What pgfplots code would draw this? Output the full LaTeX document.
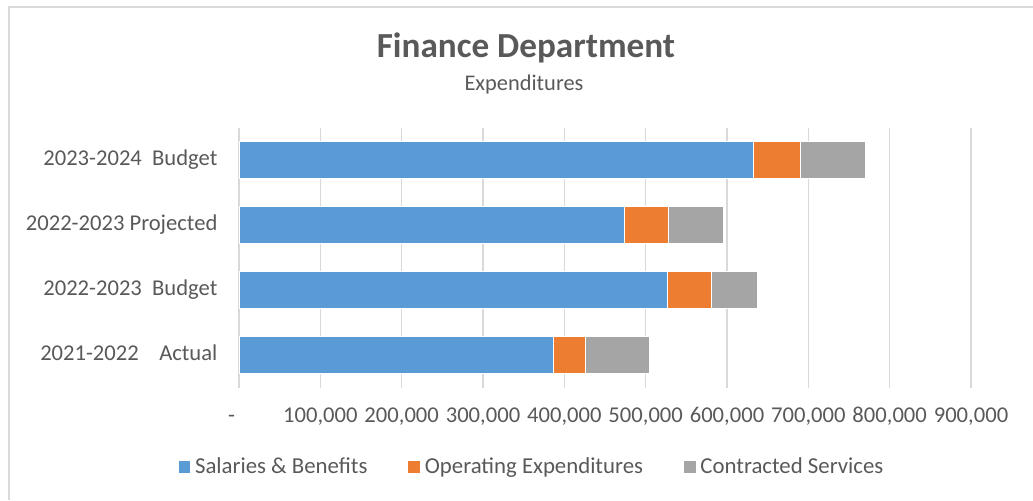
\documentclass[border=0pt]{standalone}
\usepackage{pgfplots}
\pgfplotsset{compat=1.18}
\usepackage{fontspec}
\setmainfont{Carlito}
\definecolor{cblue}{HTML}{5B9BD5}
\definecolor{corange}{HTML}{ED7D31}
\definecolor{cgray}{HTML}{A5A5A5}
\definecolor{gridc}{HTML}{D9D9D9}
\definecolor{txt}{HTML}{595959}
\begin{document}
\begin{tikzpicture}
\useasboundingbox (0,0) rectangle (516.5pt,250pt);
\draw[gridc, line width=0.75pt] (4.5pt,0) -- (4.5pt,246.5pt) -- (516.5pt,246.5pt);
\node[txt, font=\fontsize{17.6}{21}\selectfont\bfseries] at (263pt,226pt) {Finance Department};
\node[txt, font=\fontsize{11.2}{13}\selectfont] at (262pt,207.5pt) {Expenditures};
\begin{axis}[
  at={(119.5pt,56.25pt)}, anchor=south west,
  scale only axis, width=366pt, height=130pt,
  xbar stacked, bar width=18.35pt,
  xmin=0, xmax=900000, ymin=-0.5, ymax=3.5,
  scaled x ticks=false,
  ytick={0,1,2,3},
  yticklabels={{2021-2022\ \ \ \ Actual},{2022-2023\ \ Budget},{2022-2023 Projected},{2023-2024\ \ Budget}},
  xtick={0,100000,200000,300000,400000,500000,600000,700000,800000,900000},
  xticklabels={{\llap{-\hspace{2pt}}},{100,000},{200,000},{300,000},{400,000},{500,000},{600,000},{700,000},{800,000},{900,000}},
  typeset ticklabels with strut,
  axis line style={draw=none},
  xmajorgrids, grid style={gridc, line width=0.75pt},
  major tick length=0pt,
  tick label style={txt, font=\fontsize{11.3}{13}\selectfont},
  xticklabel style={yshift=-5pt},
  yticklabel style={xshift=-7.3pt},
  legend style={at={(0.401,-0.306)}, anchor=center, draw=none, fill=none,
    font=\fontsize{11.4}{13}\selectfont, text=txt, legend columns=-1,
    /tikz/every even column/.append style={column sep=18pt}},
  legend cell align=left,
  legend image code/.code={\fill[#1] (0pt,-3.15pt) rectangle (6.3pt,3.15pt);},
]
\addplot[fill=cblue, draw=white, line width=0.4pt] coordinates {(386000,0) (526700,1) (473800,2) (632500,3)};
\addplot[fill=corange, draw=white, line width=0.4pt] coordinates {(40300,0) (54100,1) (54200,2) (57500,3)};
\addplot[fill=cgray, draw=white, line width=0.4pt] coordinates {(77700,0) (56600,1) (68000,2) (80000,3)};
\legend{Salaries \& Benefits, Operating Expenditures, Contracted Services}
\end{axis}
\end{tikzpicture}
\end{document}
